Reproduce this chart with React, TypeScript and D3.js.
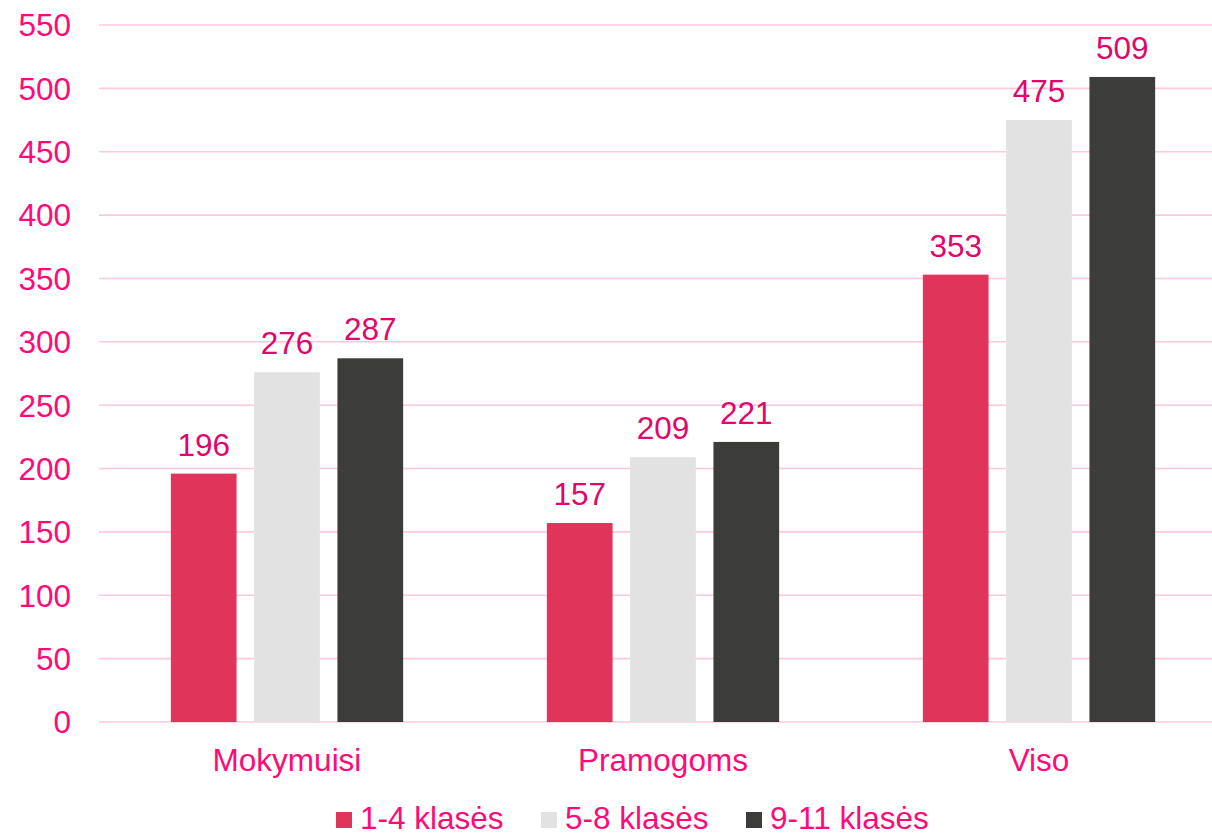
import React from "react";
import * as d3 from "d3";

const categories = ["Mokymuisi", "Pramogoms", "Viso"];
const seriesNames = ["1-4 klasės", "5-8 klasės", "9-11 klasės"];
const series1 = [196, 157, 353];
const series2 = [276, 209, 475];
const series3 = [287, 221, 509];
const seriesColors = ["#e0345a", "#e2e2e2", "#3c3c3b"];
const yTicks = [0, 50, 100, 150, 200, 250, 300, 350, 400, 450, 500, 550];

const W = 1212;
const H = 834;
const AXIS_PINK = "#ff0a78";
const LABEL_PINK = "#e0066c";
const GRID = "#ffc8e0";
const FONT = "Liberation Sans, Arial, sans-serif";

export default function App() {
  const values = [series1, series2, series3];
  const y = d3.scaleLinear().domain([0, 550]).range([722, 25]);
  const x0 = d3.scaleBand<string>().domain(categories).range([99, 99 + 376 * 3]).padding(0);
  const x1 = d3
    .scaleBand<string>()
    .domain(seriesNames)
    .range([-116.15, 116.15])
    .paddingInner(0.211)
    .paddingOuter(0);

  const legendX = [336, 541, 746];

  return (
    <svg
      width={W}
      height={H}
      style={{ position: "absolute", left: 0, top: 0, background: "#fff" }}
      fontFamily={FONT}
    >
      {yTicks.map((t) => (
        <g key={t}>
          <line x1={99} x2={W} y1={y(t)} y2={y(t)} stroke={GRID} strokeWidth={1.6} />
          <text
            x={71}
            y={y(t)}
            dy="0.36em"
            textAnchor="end"
            fontSize={31.5}
            fill={AXIS_PINK}
          >
            {t}
          </text>
        </g>
      ))}
      {categories.map((c, ci) => {
        const cx = (x0(c) as number) + x0.bandwidth() / 2;
        return (
          <g key={c}>
            {seriesNames.map((s, si) => {
              const v = values[si][ci];
              const bx = cx + (x1(s) as number);
              return (
                <g key={s}>
                  <rect
                    x={bx}
                    y={y(v)}
                    width={x1.bandwidth()}
                    height={y(0) - y(v)}
                    fill={seriesColors[si]}
                  />
                  <text
                    x={bx + x1.bandwidth() / 2}
                    y={y(v) - 18}
                    textAnchor="middle"
                    fontSize={31.5}
                    fill={LABEL_PINK}
                  >
                    {v}
                  </text>
                </g>
              );
            })}
            <text x={cx} y={771} textAnchor="middle" fontSize={31.5} fill={AXIS_PINK}>
              {c}
            </text>
          </g>
        );
      })}
      {seriesNames.map((s, si) => (
        <g key={s}>
          <rect x={legendX[si]} y={812} width={16} height={16} fill={seriesColors[si]} />
          <text x={legendX[si] + 24} y={828.5} fontSize={31.5} fill={AXIS_PINK}>
            {s}
          </text>
        </g>
      ))}
    </svg>
  );
}
